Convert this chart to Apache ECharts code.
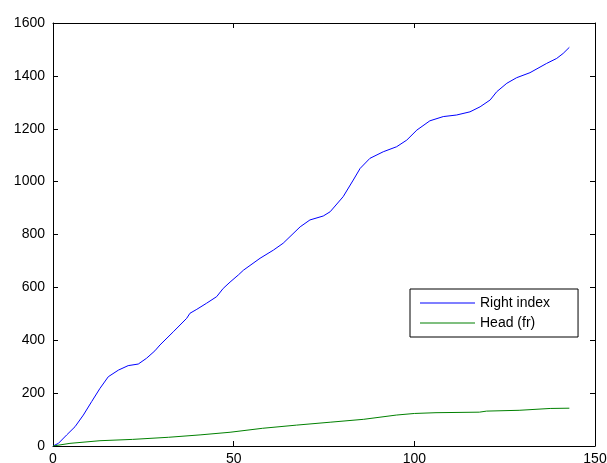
<!DOCTYPE html>
<html>
<head>
<meta charset="utf-8">
<script src="https://cdn.jsdelivr.net/npm/echarts@6/dist/echarts.min.js"></script>
<style>
html,body{margin:0;padding:0;background:#fff;}
#chart{width:607px;height:463px;}
</style>
</head>
<body>
<div id="chart"></div>
<script>
// Data
const seriesNames = ['Right index', 'Head (fr)'];
const xTicks = [0, 50, 100, 150];
const yTicks = [0, 200, 400, 600, 800, 1000, 1200, 1400, 1600];

const rightX = [0, 1.5, 3.8, 6.1, 8.4, 10.7, 13, 15.3, 18.1, 20.8, 23.6, 25.9, 28.2, 29.6, 33.3, 37, 37.9, 39.8, 42.5, 45.3, 47.1, 49, 51.3, 52.7, 57.3, 61, 63.7, 68.4, 71.1, 74.8, 76.7, 80.3, 83.1, 85, 87.7, 91.4, 95.1, 97.9, 100.7, 104.3, 108, 111.7, 115.4, 118.2, 121, 122.8, 125.6, 128.3, 132, 136.6, 139.4, 141.2, 142.9];
const rightY = [0, 10, 42, 73, 117, 168, 218, 262, 287, 304, 310, 332, 360, 382, 432, 483, 502, 517, 540, 565, 596, 620, 647, 665, 710, 741, 767, 829, 855, 870, 886, 943, 1006, 1050, 1088, 1113, 1132, 1157, 1195, 1230, 1246, 1252, 1264, 1283, 1309, 1340, 1372, 1393, 1412, 1447, 1466, 1485, 1508];

const headX = [0, 4.7, 13, 22, 32, 40.7, 49, 58, 67.4, 76.7, 86, 95, 100, 106, 118, 120, 129, 137.6, 142.9];
const headY = [0, 10, 20, 25, 33, 42, 52, 67, 79, 90, 101, 117, 123, 126, 128, 132, 135, 142, 143];

const pairs = (xs, ys) => xs.map((x, i) => [x, ys[i]]);

const FONT = 'Liberation Sans';
const axisCommon = {
  type: 'value',
  axisLine: { show: true, onZero: false, lineStyle: { color: '#000', width: 1 } },
  axisTick: { show: true, inside: true, length: 5, lineStyle: { color: '#000' } },
  splitLine: { show: false }
};
const plainLabel = v => String(v);

const chart = echarts.init(document.getElementById('chart'), null, { renderer: 'canvas' });
chart.setOption({
  animation: false,
  backgroundColor: '#fff',
  grid: { left: 53, top: 23, right: 12, bottom: 17, containLabel: false, outerBoundsMode: 'none' },
  xAxis: [
    Object.assign({}, axisCommon, {
      min: xTicks[0], max: xTicks[xTicks.length - 1], interval: 50, position: 'bottom',
      axisLabel: { color: '#000', fontSize: 14, fontFamily: FONT, margin: 6, formatter: plainLabel }
    }),
    Object.assign({}, axisCommon, {
      min: xTicks[0], max: xTicks[xTicks.length - 1], interval: 50, position: 'top',
      axisLabel: { show: false }
    })
  ],
  yAxis: [
    Object.assign({}, axisCommon, {
      min: yTicks[0], max: yTicks[yTicks.length - 1], interval: 200, position: 'left',
      axisLabel: { color: '#000', fontSize: 14, fontFamily: FONT, margin: 8, formatter: plainLabel }
    }),
    Object.assign({}, axisCommon, {
      min: yTicks[0], max: yTicks[yTicks.length - 1], interval: 200, position: 'right',
      axisLabel: { show: false }
    })
  ],
  legend: {
    orient: 'vertical',
    left: 410, top: 289,
    padding: [7, 28, 7, 10],
    icon: 'rect',
    itemWidth: 55, itemHeight: 1.2, itemGap: 6,
    backgroundColor: '#fff',
    borderColor: '#000', borderWidth: 1, borderRadius: 0,
    textStyle: { color: '#000', fontSize: 14, fontFamily: FONT, lineHeight: 14 },
    data: seriesNames
  },
  series: [
    {
      name: seriesNames[0], type: 'line', data: pairs(rightX, rightY),
      symbol: 'none', smooth: false,
      lineStyle: { color: '#0000ff', width: 1 }, itemStyle: { color: '#0000ff' }
    },
    {
      name: seriesNames[1], type: 'line', data: pairs(headX, headY),
      symbol: 'none', smooth: false,
      lineStyle: { color: '#008000', width: 1 }, itemStyle: { color: '#008000' }
    }
  ]
});
</script>
</body>
</html>
